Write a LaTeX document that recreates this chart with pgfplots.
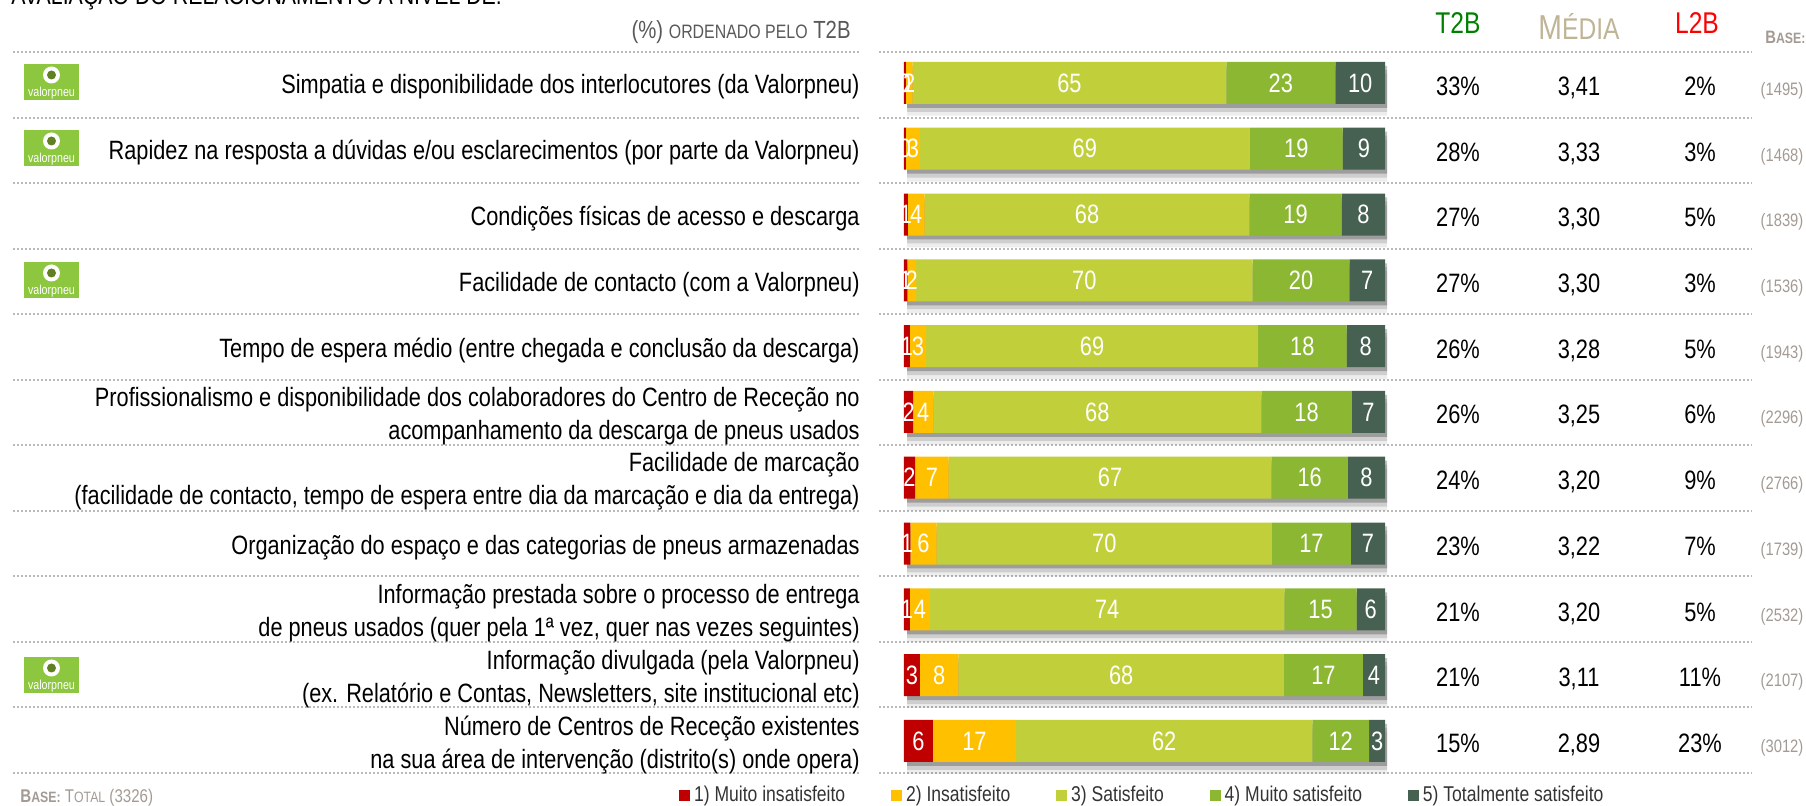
\documentclass[border=0pt]{standalone}
\usepackage{pgfplots}
\usepackage{pgfplotstable}
\usepackage{fontspec}
\pgfplotsset{compat=1.18}
\setmainfont[FakeStretch=0.82]{Liberation Sans}
\definecolor{c1}{HTML}{C00000}
\definecolor{c2}{HTML}{FFC000}
\definecolor{c3}{HTML}{C1D03A}
\definecolor{c4}{HTML}{8BB733}
\definecolor{c5}{HTML}{466152}
\definecolor{sep}{HTML}{B9B9B9}
\definecolor{basegrey}{HTML}{A39A94}
\definecolor{media}{HTML}{BFB596}
\definecolor{logo}{HTML}{8DC63F}
\pgfplotstableread{
row v1  v2  v3   v4   v5   l1 l2 l3 l4 l5
1  0.4 1.4 65.2 22.7 10.3  0 2 65 23 10
2  0.4 2.9 68.6 19.3 8.8   0 3 69 19 9
3  0.8 3.5 67.5 19.2 9.0   1 4 68 19 8
4  0.7 1.8 70.0 20.1 7.4   1 2 70 20 7
5  1.2 3.4 69.0 18.4 8.0   1 3 69 18 8
6  1.9 4.2 68.2 18.8 6.9   2 4 68 18 7
7  2.3 7.0 67.1 15.9 7.7   2 7 67 16 8
8  1.3 5.5 69.7 16.4 7.1   1 6 70 17 7
9  1.2 4.2 73.7 15.0 5.9   1 4 74 15 6
10 3.3 8.0 67.7 16.4 4.6   3 8 68 17 4
11 6.0 17.3 61.6 11.8 3.3  6 17 62 12 3
}\bars
\newcommand{\logoat}[1]{%
  \fill[logo] (24,#1-18) rectangle (79,#1+18);
  \fill[white] (51.5,#1-7) circle (8.5);
  \fill[c4!70!black] (51.5,#1-7) circle (4.5);
  \node[white,font=\fontsize{6.5}{6.5}\selectfont,inner sep=0pt] at (51.5,#1+11) {valorpneu};
}
\begin{document}
\begin{tikzpicture}
\path[use as bounding box] (0,0) rectangle (903pt,-403pt);
\begin{scope}[x=0.5pt,y=-0.5pt]
  \begin{scope}
    \clip (0,0) rectangle (1806,806);
    \node[anchor=base west,inner sep=0pt,font=\fontsize{13}{14}\selectfont] at (11,5) {AVALIAÇÃO DO RELACIONAMENTO A NÍVEL DE:};
  \end{scope}
  \node[anchor=base east,inner sep=0pt,text=black!65,font=\fontsize{12.4}{13}\selectfont] at (851,39) {(\%) {\fontsize{9.7}{11}\selectfont ORDENADO PELO} T2B};
  \foreach \i in {0,...,11} {
    \pgfmathsetmacro{\yy}{52+65.55*\i}
    \draw[sep,line width=1pt,dash pattern=on 1pt off 1pt] (13,\yy) -- (861,\yy);
    \draw[sep,line width=1pt,dash pattern=on 1pt off 1pt] (879,\yy) -- (1752,\yy);
  }
  \node[anchor=base,text=green!50!black,inner sep=0pt,font=\fontsize{15}{16}\selectfont] at (1458,34) {T2B};
  \node[anchor=base,text=media,inner sep=0pt,font=\fontsize{17.3}{18}\selectfont] at (1579,40) {M{\fontsize{15}{16}\selectfont ÉDIA}};
  \node[anchor=base,text=red,inner sep=0pt,font=\fontsize{15}{16}\selectfont] at (1697,34) {L2B};
  \node[anchor=base west,text=basegrey,inner sep=0pt,font=\bfseries\fontsize{9}{10}\selectfont] at (1765,44) {B{\fontsize{7.5}{8}\selectfont ASE:}};
  \node[anchor=base west,text=basegrey,inner sep=0pt,font=\fontsize{9.2}{10}\selectfont] at (20,803) {{\bfseries B{\fontsize{7.5}{8}\selectfont ASE:}} T{\fontsize{7.5}{8}\selectfont OTAL} (3326)};
\end{scope}
\begin{axis}[name=shadow,at={(453.5pt,-25pt)},anchor=north west,scale only axis,
  width=240pt,height=361.9pt,xmin=0,xmax=100,ymin=0.5,ymax=11.5,y dir=reverse,hide axis,clip=false,
  xbar,bar shift=0pt,bar width=21pt]
  \addplot[draw=none,fill=black,fill opacity=0.07] table[x expr=100,y expr=\thisrow{row}+0.18]{\bars};
  \addplot[draw=none,fill=black,fill opacity=0.13] table[x expr=100,y expr=\thisrow{row}+0.12]{\bars};
  \addplot[draw=none,fill=black,fill opacity=0.24] table[x expr=100,y expr=\thisrow{row}+0.06]{\bars};
\end{axis}
\begin{axis}[at={(452pt,-25pt)},anchor=north west,scale only axis,
  width=240.5pt,height=361.9pt,xmin=0,xmax=100,ymin=0.5,ymax=11.5,y dir=reverse,clip=false,
  axis line style={draw=none},major tick length=0pt,xtick=\empty,
  ytick={1,...,11},
  yticklabel style={align=right,inner sep=0pt,xshift=-22pt,yshift=-2pt,font=\fontsize{13.25}{16.5}\selectfont},
  yticklabels={
    Simpatia e disponibilidade dos interlocutores (da Valorpneu),
    Rapidez na resposta a dúvidas e/ou esclarecimentos (por parte da Valorpneu),
    Condições físicas de acesso e descarga,
    Facilidade de contacto (com a Valorpneu),
    Tempo de espera médio (entre chegada e conclusão da descarga),
    {Profissionalismo e disponibilidade dos colaboradores do Centro de Receção no\\acompanhamento da descarga de pneus usados},
    {Facilidade de marcação\\(facilidade de contacto, tempo de espera entre dia da marcação e dia da entrega)},
    Organização do espaço e das categorias de pneus armazenadas,
    {Informação prestada sobre o processo de entrega\\de pneus usados (quer pela 1ª vez, quer nas vezes seguintes)},
    {Informação divulgada (pela Valorpneu)\\(ex. Relatório e Contas, Newsletters, site institucional etc)},
    {Número de Centros de Receção existentes\\na sua área de intervenção (distrito(s) onde opera)}
  },
  xbar stacked,bar width=21pt,
  point meta=explicit symbolic,
  nodes near coords,
  every node near coord/.append style={text=white,font=\fontsize{13.3}{13.3}\selectfont,inner sep=0pt},
  legend columns=5,
  legend style={at={(-0.468,-0.03)},anchor=west,draw=none,fill=none,inner sep=0pt,
    font=\fontsize{10.7}{11}\selectfont,text=black!80,
    /tikz/every even column/.append style={column sep=21pt}},
  legend image code/.code={\fill[#1] (0pt,-2.6pt) rectangle (5.4pt,2.6pt);},
  ]
  \addplot[draw=none,fill=c1] table[x=v1,y=row,meta=l1]{\bars};
  \addlegendentry{1) Muito insatisfeito}
  \addplot[draw=none,fill=c2] table[x=v2,y=row,meta=l2]{\bars};
  \addlegendentry{2) Insatisfeito}
  \addplot[draw=none,fill=c3] table[x=v3,y=row,meta=l3]{\bars};
  \addlegendentry{3) Satisfeito}
  \addplot[draw=none,fill=c4] table[x=v4,y=row,meta=l4]{\bars};
  \addlegendentry{4) Muito satisfeito}
  \addplot[draw=none,fill=c5] table[x=v5,y=row,meta=l5]{\bars};
  \addlegendentry{5) Totalmente satisfeito}
\end{axis}
\begin{scope}[x=0.5pt,y=-0.5pt]
  \logoat{82}\logoat{148}\logoat{280}\logoat{675}
  \foreach \i/\a/\b/\c/\d in {0/33/{3,41}/2/1495,1/28/{3,33}/3/1468,2/27/{3,30}/5/1839,3/27/{3,30}/3/1536,4/26/{3,28}/5/1943,5/26/{3,25}/6/2296,6/24/{3,20}/9/2766,7/23/{3,22}/7/1739,8/21/{3,20}/5/2532,9/21/{3,11}/11/2107,10/15/{2,89}/23/3012} {
    \pgfmathsetmacro{\yy}{95.5+65.7*\i}
    \node[anchor=base,inner sep=0pt,font=\fontsize{13.3}{14}\selectfont] at (1458,\yy) {\a\%};
    \node[anchor=base,inner sep=0pt,font=\fontsize{13.3}{14}\selectfont] at (1579,\yy) {\b};
    \node[anchor=base,inner sep=0pt,font=\fontsize{13.3}{14}\selectfont] at (1700,\yy) {\c\%};
    \node[anchor=base,inner sep=0pt,text=basegrey,font=\fontsize{9}{9}\selectfont] at (1782,\yy) {(\d)};
  }
\end{scope}
\end{tikzpicture}
\end{document}
